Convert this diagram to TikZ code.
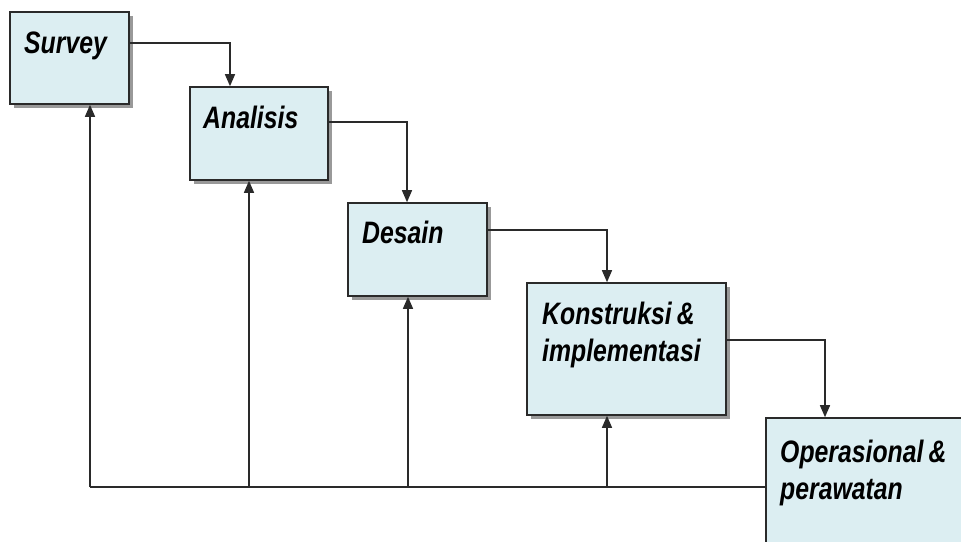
\documentclass[tikz,border=0pt]{standalone}
\usepackage{fontspec}
\setmainfont{Liberation Sans}
\newfontfamily\labfont{Liberation Sans}[FakeStretch=0.8]
\usetikzlibrary{arrows.meta,shadows}
\definecolor{boxfill}{HTML}{DCEEF2}
\definecolor{edge}{HTML}{2A2A2A}
\tikzset{
  stagebox/.style={draw=edge, line width=1.6pt, fill=boxfill, inner sep=0pt,
    drop shadow={shadow xshift=3.5pt, shadow yshift=-3.5pt, fill=black!50, opacity=0.8}},
  stagetext/.style={anchor=base west, inner sep=0pt, align=left,
    font=\labfont\bfseries\itshape\fontsize{31}{37}\selectfont},
  flow/.style={draw=edge, line width=1.4pt, -{Triangle[length=12pt,width=10pt]}},
  plain/.style={draw=edge, line width=1.4pt}
}
\begin{document}
\begin{tikzpicture}[x=1pt,y=-1pt]
\useasboundingbox (0,0) rectangle (961,541);
\clip (0,0) rectangle (961,541);
\fill[white] (0,0) rectangle (961,541);
% boxes
\node[stagebox, minimum width=119pt, minimum height=92pt] (survey) at (69.5,58) {};
\node[stagebox, minimum width=138pt, minimum height=93pt] (analisis) at (259,133.5) {};
\node[stagebox, minimum width=139pt, minimum height=93pt] (desain) at (417.5,249.5) {};
\node[stagebox, minimum width=199pt, minimum height=132pt] (konstruksi) at (626.5,349) {};
\node[stagebox, minimum width=200pt, minimum height=127pt] (operasional) at (866,481.5) {};
% texts (base anchor = baseline of the last line)
\node[stagetext] (tsurvey) at (24,53) {Survey};
\node[stagetext] (tanalisis) at (203,128) {Analisis};
\node[stagetext] (tdesain) at (362,243) {Desain};
\node[stagetext] (tkonstruksi) at (542,361) {Konstruksi\,\&\\implementasi};
\node[stagetext] (toperasional) at (780,499) {Operasional\,\&\\perawatan};
% forward flow
\draw[flow] ([yshift=15pt]survey.east) -| ([xshift=-29pt]analisis.north);
\draw[flow] ([yshift=11.5pt]analisis.east) -| ([xshift=-10.5pt]desain.north);
\draw[flow] ([yshift=19.5pt]desain.east) -| ([xshift=-19.5pt]konstruksi.north);
\draw[flow] ([yshift=9pt]konstruksi.east) -| ([xshift=-41pt]operasional.north);
% feedback
\coordinate (b1) at (90,487);
\coordinate (b2) at (249,487);
\coordinate (b3) at (408,487);
\coordinate (b4) at (607,487);
\draw[plain] (operasional.west |- b1) -- (b1);
\draw[flow] (b1) -- (b1 |- survey.south);
\draw[flow] (b2) -- (b2 |- analisis.south);
\draw[flow] (b3) -- (b3 |- desain.south);
\draw[flow] (b4) -- (b4 |- konstruksi.south);
\end{tikzpicture}
\end{document}
